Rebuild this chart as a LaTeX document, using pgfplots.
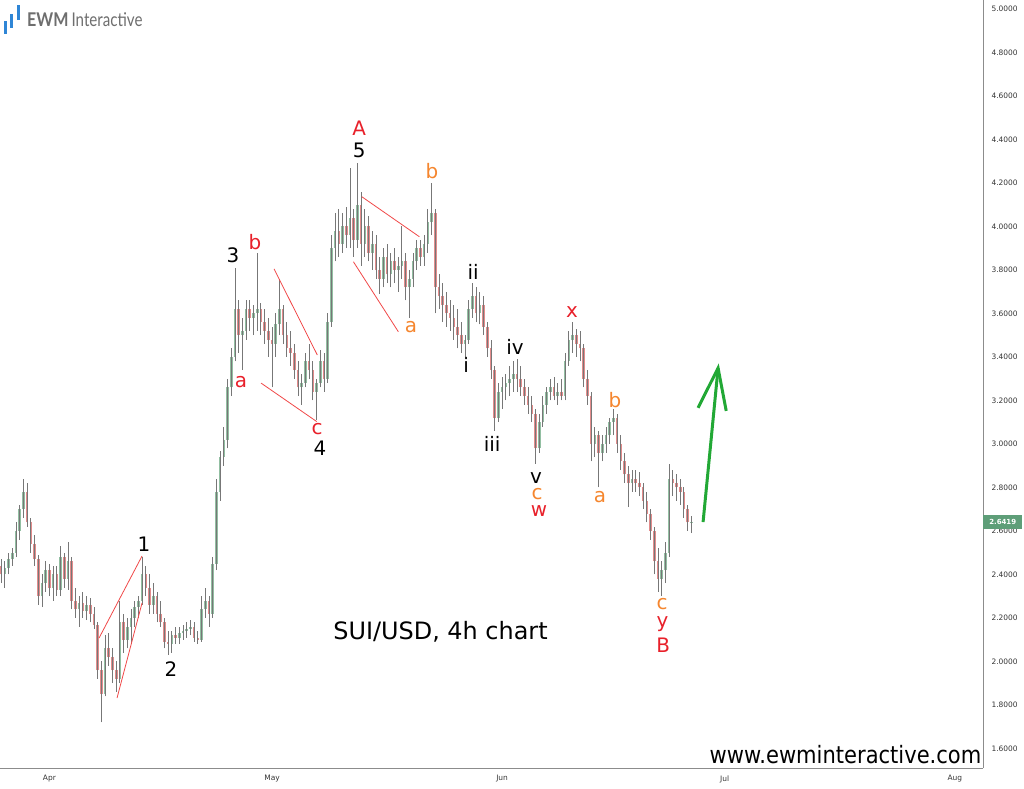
\documentclass[border=0pt]{standalone}
\usepackage{pgfplots}
\pgfplotsset{compat=1.18}
\usepackage{pgfplotstable}
\usepackage{graphicx}
\usepackage{fontspec}
\setmainfont{DejaVu Sans}
\newfontfamily\logofont{Lato}
\definecolor{wick}{HTML}{777777}
\definecolor{upc}{HTML}{92BFA2}
\definecolor{dnc}{HTML}{E38C8C}
\definecolor{wred}{HTML}{E8202A}
\definecolor{lred}{HTML}{F04848}
\definecolor{worange}{HTML}{F5862E}
\definecolor{agreen}{HTML}{22A835}
\definecolor{axisgray}{HTML}{8C8C8C}
\definecolor{tag}{HTML}{5E9E78}
\definecolor{logoblue}{HTML}{2F86D6}
\definecolor{logogray}{HTML}{6E6E6E}

\pgfplotstableread{
O H L C
2.44 2.47 2.36 2.40
2.40 2.46 2.34 2.43
2.43 2.50 2.40 2.47
2.47 2.52 2.44 2.50
2.50 2.64 2.48 2.60
2.60 2.72 2.56 2.70
2.70 2.84 2.66 2.78
2.78 2.82 2.62 2.64
2.64 2.66 2.50 2.54
2.54 2.58 2.44 2.47
2.47 2.49 2.26 2.30
2.30 2.40 2.25 2.36
2.36 2.46 2.32 2.42
2.42 2.45 2.30 2.34
2.34 2.44 2.28 2.40
2.40 2.44 2.30 2.33
2.33 2.53 2.30 2.48
2.48 2.50 2.34 2.38
2.38 2.55 2.33 2.46
2.46 2.48 2.24 2.28
2.28 2.34 2.20 2.24
2.24 2.30 2.16 2.27
2.27 2.32 2.20 2.23
2.23 2.30 2.19 2.26
2.26 2.29 2.18 2.22
2.22 2.25 2.15 2.17
2.17 2.18 1.92 1.96
1.96 2.00 1.72 1.85
1.85 2.12 1.84 2.06
2.06 2.13 1.98 2.02
2.02 2.06 1.90 1.96
1.96 2.00 1.86 1.92
1.92 2.28 1.90 2.18
2.18 2.22 2.04 2.10
2.10 2.20 2.06 2.16
2.16 2.24 2.08 2.20
2.20 2.28 2.16 2.25
2.25 2.30 2.20 2.28
2.28 2.48 2.26 2.40
2.40 2.44 2.30 2.34
2.34 2.40 2.22 2.26
2.26 2.36 2.22 2.30
2.30 2.32 2.18 2.22
2.22 2.28 2.16 2.18
2.18 2.20 2.06 2.09
2.09 2.14 2.03 2.08
2.08 2.14 2.04 2.12
2.12 2.16 2.08 2.11
2.11 2.16 2.08 2.13
2.13 2.17 2.10 2.14
2.14 2.18 2.11 2.15
2.15 2.19 2.12 2.16
2.16 2.18 2.09 2.11
2.11 2.14 2.08 2.10
2.10 2.30 2.09 2.24
2.24 2.34 2.20 2.28
2.28 2.30 2.16 2.22
2.22 2.48 2.20 2.45
2.45 2.84 2.42 2.78
2.78 2.97 2.74 2.94
2.94 3.08 2.90 3.02
3.02 3.30 2.98 3.26
3.26 3.44 3.22 3.40
3.40 3.81 3.38 3.62
3.62 3.66 3.42 3.50
3.50 3.58 3.34 3.52
3.52 3.66 3.48 3.62
3.62 3.66 3.52 3.58
3.58 3.64 3.50 3.60
3.60 3.88 3.52 3.62
3.62 3.65 3.50 3.56
3.56 3.62 3.46 3.52
3.52 3.58 3.40 3.48
3.48 3.54 3.26 3.46
3.46 3.60 3.40 3.55
3.55 3.76 3.50 3.62
3.62 3.64 3.46 3.50
3.50 3.56 3.40 3.44
3.44 3.52 3.36 3.42
3.42 3.46 3.30 3.34
3.34 3.38 3.22 3.26
3.26 3.32 3.18 3.28
3.28 3.42 3.26 3.38
3.38 3.46 3.30 3.34
3.34 3.38 3.20 3.24
3.24 3.30 3.11 3.28
3.28 3.43 3.26 3.38
3.38 3.42 3.24 3.30
3.30 3.60 3.28 3.56
3.56 3.96 3.54 3.90
3.90 4.06 3.84 3.98
3.98 4.08 3.86 3.92
3.92 4.06 3.88 4.00
4.00 4.09 3.90 3.96
3.96 4.27 3.90 4.04
4.04 4.08 3.86 3.94
3.94 4.29 3.90 4.10
4.10 4.16 3.82 3.92
3.92 4.08 3.86 4.00
4.00 4.05 3.84 3.88
3.88 3.98 3.80 3.92
3.92 3.96 3.76 3.80
3.80 3.86 3.69 3.76
3.76 3.90 3.72 3.86
3.86 3.92 3.74 3.78
3.78 3.88 3.72 3.84
3.84 3.90 3.74 3.80
3.80 3.86 3.70 3.82
3.82 4.00 3.76 3.84
3.84 3.88 3.66 3.72
3.72 3.80 3.58 3.76
3.76 3.88 3.72 3.84
3.84 3.94 3.80 3.90
3.90 3.94 3.82 3.86
3.86 3.96 3.82 3.92
3.92 4.08 3.88 4.02
4.02 4.20 3.96 4.06
4.06 4.08 3.60 3.72
3.72 3.78 3.62 3.68
3.68 3.74 3.56 3.64
3.64 3.70 3.54 3.60
3.60 3.66 3.52 3.58
3.58 3.64 3.48 3.54
3.54 3.62 3.44 3.50
3.50 3.56 3.42 3.46
3.46 3.50 3.40 3.48
3.48 3.66 3.46 3.62
3.62 3.74 3.58 3.68
3.68 3.72 3.56 3.60
3.60 3.70 3.55 3.64
3.64 3.68 3.50 3.54
3.54 3.56 3.40 3.44
3.44 3.48 3.30 3.34
3.34 3.36 3.06 3.12
3.12 3.28 3.10 3.24
3.24 3.31 3.16 3.26
3.26 3.32 3.20 3.28
3.28 3.36 3.22 3.30
3.30 3.38 3.24 3.32
3.32 3.39 3.24 3.30
3.30 3.36 3.22 3.26
3.26 3.30 3.18 3.22
3.22 3.26 3.14 3.18
3.18 3.22 3.10 3.14
3.14 3.16 2.91 2.98
2.98 3.14 2.96 3.10
3.10 3.22 3.08 3.18
3.18 3.26 3.14 3.24
3.24 3.30 3.20 3.26
3.26 3.31 3.20 3.22
3.22 3.28 3.18 3.24
3.24 3.30 3.20 3.22
3.22 3.42 3.20 3.38
3.38 3.52 3.36 3.48
3.48 3.56 3.42 3.50
3.50 3.53 3.40 3.46
3.46 3.52 3.38 3.44
3.44 3.46 3.26 3.30
3.30 3.34 3.18 3.22
3.22 3.24 2.92 3.00
3.00 3.08 2.94 3.04
3.04 3.06 2.80 2.96
2.96 3.04 2.92 3.00
3.00 3.08 2.96 3.04
3.04 3.12 3.00 3.10
3.10 3.16 3.04 3.12
3.12 3.14 2.96 3.00
3.00 3.04 2.88 2.92
2.92 2.96 2.82 2.86
2.86 2.90 2.71 2.82
2.82 2.88 2.78 2.84
2.84 2.88 2.78 2.82
2.82 2.87 2.76 2.80
2.80 2.82 2.70 2.74
2.74 2.78 2.64 2.68
2.68 2.70 2.56 2.60
2.60 2.62 2.40 2.46
2.46 2.52 2.32 2.38
2.38 2.46 2.30 2.42
2.42 2.55 2.36 2.50
2.50 2.91 2.48 2.84
2.84 2.88 2.76 2.82
2.82 2.86 2.74 2.80
2.80 2.84 2.72 2.78
2.78 2.80 2.66 2.70
2.70 2.72 2.60 2.64
2.64 2.67 2.59 2.6419
}\candles

\tikzset{wl/.style={font=\fontsize{20}{20}\selectfont, inner sep=0pt}}

\begin{document}
\begin{tikzpicture}
\path[use as bounding box] (0,0) rectangle (1024bp,789bp);
\begin{axis}[
  at={(0bp,21bp)}, anchor=south west,
  scale only axis, width=983bp, height=768bp,
  xmin=-6.66, xmax=125.8, ymin=1.5103, ymax=5.0414,
  axis x line*=bottom, axis y line*=right,
  axis line style={axisgray, line width=0.8bp},
  major tick length=0pt,
  xtick={0,30,61,91,122},
  xticklabels={Apr,May,Jun,Jul,Aug},
  ytick={1.6,1.8,2.0,2.2,2.4,2.6,2.8,3.0,3.2,3.4,3.6,3.8,4.0,4.2,4.4,4.6,4.8,5.0},
  yticklabels={1.6000,1.8000,2.0000,2.2000,2.4000,2.6000,2.8000,3.0000,3.2000,3.4000,3.6000,3.8000,4.0000,4.2000,4.4000,4.6000,4.8000,5.0000},
  xticklabel style={font=\fontsize{7.5}{8}\selectfont, text=black!80, yshift=-4bp},
  yticklabel style={font=\fontsize{7.5}{8}\selectfont, text=black!80, anchor=west, xshift=5bp},
  clip=false,
]
% candle bodies
\addplot[draw=none, mark=none, forget plot,
  error bars/.cd, y dir=plus, y explicit, error mark=none,
  error bar style={draw=upc, line width=2.6bp}]
  table[x expr=\coordindex*0.5-6.5, y=O, y error expr={max(\thisrow{C}-\thisrow{O},0)}] {\candles};
\addplot[draw=none, mark=none, forget plot,
  error bars/.cd, y dir=plus, y explicit, error mark=none,
  error bar style={draw=dnc, line width=2.6bp}]
  table[x expr=\coordindex*0.5-6.5, y=C, y error expr={max(\thisrow{O}-\thisrow{C},0)}] {\candles};
% wicks
\addplot[draw=none, mark=none, forget plot,
  error bars/.cd, y dir=plus, y explicit, error mark=none,
  error bar style={draw=wick, line width=0.9bp}]
  table[x expr=\coordindex*0.5-6.5, y=L, y error expr={\thisrow{H}-\thisrow{L}}] {\candles};

% wedge lines
\addplot[lred, line width=0.8bp, forget plot] coordinates {(6.69,2.108) (12.48,2.485)};
\addplot[lred, line width=0.8bp, forget plot] coordinates {(9.11,1.832) (12.48,2.269)};
\addplot[lred, line width=0.8bp, forget plot] coordinates {(30.27,3.805) (36.10,3.409)};
\addplot[lred, line width=0.8bp, forget plot] coordinates {(28.52,3.280) (36.02,3.103)};
\addplot[lred, line width=0.8bp, forget plot] coordinates {(42.09,4.137) (49.85,3.953)};
\addplot[lred, line width=0.8bp, forget plot] coordinates {(40.96,3.838) (47.02,3.516)};

% green arrow
\addplot[agreen, line width=3bp, forget plot] coordinates {(88.08,2.641) (90.10,3.349)};
\addplot[agreen, line width=3bp, line join=miter, forget plot] coordinates {(87.40,3.166) (90.10,3.349) (91.20,3.152)};

% wave labels
\node[wl] at (axis cs:12.75,2.540) {1};
\node[wl] at (axis cs:16.39,1.966) {2};
\node[wl] at (axis cs:24.74,3.866) {3};
\node[wl, text=wred] at (axis cs:27.71,3.930) {b};
\node[wl, text=wred] at (axis cs:25.82,3.285) {a};
\node[wl, text=wred] at (axis cs:36.06,3.069) {c};
\node[wl] at (axis cs:36.47,2.980) {4};
\node[wl, text=wred] at (axis cs:41.73,4.453) {A};
\node[wl] at (axis cs:41.73,4.352) {5};
\node[wl, text=worange] at (axis cs:51.56,4.255) {b};
\node[wl, text=worange] at (axis cs:48.73,3.538) {a};
\node[wl] at (axis cs:57.09,3.790) {ii};
\node[wl] at (axis cs:56.15,3.363) {i};
\node[wl] at (axis cs:62.75,3.446) {iv};
\node[wl] at (axis cs:59.65,3.000) {iii};
\node[wl] at (axis cs:65.58,2.845) {v};
\node[wl, text=worange] at (axis cs:65.71,2.768) {c};
\node[wl, text=wred] at (axis cs:65.98,2.690) {w};
\node[wl, text=wred] at (axis cs:70.43,3.607) {x};
\node[wl, text=worange] at (axis cs:74.20,2.756) {a};
\node[wl, text=worange] at (axis cs:76.22,3.202) {b};
\node[wl, text=worange] at (axis cs:82.56,2.262) {c};
\node[wl, text=wred] at (axis cs:82.60,2.172) {y};
\node[wl, text=wred] at (axis cs:82.70,2.076) {B};

\node[font=\fontsize{24}{24}\selectfont, inner sep=0pt] at (axis cs:52.7,2.136) {SUI/USD, 4h chart};
\node[font=\fontsize{24}{24}\selectfont, inner sep=0pt, anchor=east] at (axis cs:125.6,1.570) {\scalebox{0.88}[1]{www.ewminteractive.com}};

% price tag
\node[fill=tag, text=white, font=\bfseries\fontsize{7}{7}\selectfont, inner sep=0pt, minimum width=39bp, minimum height=14bp, anchor=west] at (axis cs:125.8,2.6419) {2.6419};
\end{axis}
% logo
\fill[logoblue] (4bp,755bp) rectangle (6.5bp,768bp);
\fill[logoblue] (10bp,761bp) rectangle (12.5bp,775bp);
\fill[logoblue] (17bp,769bp) rectangle (19.5bp,784bp);
\node[anchor=base west, inner sep=0pt, text=logogray, font=\logofont\fontsize{19}{19}\selectfont] at (27bp,762bp) {\scalebox{0.85}[1]{\bfseries EWM}\hspace{3bp}\scalebox{0.8}[1]{Interactive}};
\end{tikzpicture}
\end{document}
